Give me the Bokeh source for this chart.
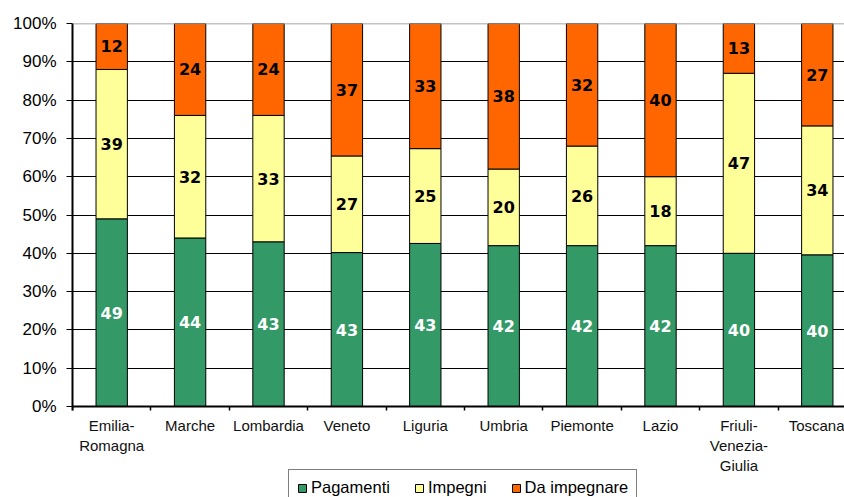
from bokeh.plotting import figure
from bokeh.models import (ColumnDataSource, FixedTicker, NumeralTickFormatter, Span,
                          Legend, LegendItem, Range1d)
from bokeh.core.properties import value
from bokeh.embed import file_html
from bokeh.resources import INLINE

regions = ["Emilia-\nRomagna", "Marche", "Lombardia", "Veneto", "Liguria", "Umbria",
           "Piemonte", "Lazio", "Friuli-\nVenezia-\nGiulia", "Toscana"]
pagamenti = [49, 44, 43, 43, 43, 42, 42, 42, 40, 40]
impegni = [39, 32, 33, 27, 25, 20, 26, 18, 47, 34]
da_impegnare = [12, 24, 24, 37, 33, 38, 32, 40, 13, 27]
series_names = ["Pagamenti", "Impegni", "Da impegnare"]
colors = ["#339966", "#FFFF99", "#FF6600"]
label_colors = ["white", "black", "black"]
y_ticks = [0.0, 0.1, 0.2, 0.3, 0.4, 0.5, 0.6, 0.7, 0.8, 0.9, 1.0]

W, H = 844, 497
left, top = 72, 23
zero_px = 406          # pixel row of the 0% line
px_per_unit = 383.0    # pixels from 0% to 100%
slot = 78.4
frame_w = W - left
x_end = -0.5 + frame_w / slot
y_start = -(H - zero_px) / px_per_unit

p = figure(width=W, height=H, output_backend="svg", toolbar_location=None,
           x_range=Range1d(-0.5, x_end), y_range=Range1d(y_start, 1),
           min_border_left=left, min_border_top=top, min_border_right=0,
           min_border_bottom=0)
p.outline_line_color = None
p.background_fill_color = "white"

n = len(regions)
xs = list(range(n))
totals = [a + b + c for a, b, c in zip(pagamenti, impegni, da_impegnare)]
series = [pagamenti, impegni, da_impegnare]
bottom = [0.0] * n
renderers = []
for vals, col, lc in zip(series, colors, label_colors):
    shares = [v / t for v, t in zip(vals, totals)]
    tops = [b + s for b, s in zip(bottom, shares)]
    mids = [(b + t) / 2 for b, t in zip(bottom, tops)]
    src = ColumnDataSource(dict(x=xs, bottom=bottom, top=tops, mid=mids,
                                lab=[str(v) for v in vals]))
    r = p.vbar(x="x", bottom="bottom", top="top", width=0.4, source=src,
               fill_color=col, line_color="black", line_width=1)
    renderers.append(r)
    p.text(x="x", y="mid", text="lab", source=src, text_align="center",
           text_baseline="middle", text_color=lc, text_font=value("DejaVu Sans"),
           text_font_style="bold", text_font_size="16px")
    bottom = tops

# grid
p.xgrid.visible = False
p.ygrid.ticker = FixedTicker(ticks=y_ticks[1:-1])
p.ygrid.grid_line_color = "black"
p.ygrid.grid_line_width = 1
p.add_layout(Span(location=1.0, dimension="width", line_color="#888888", line_width=1.5))

# y axis
p.yaxis.ticker = FixedTicker(ticks=y_ticks)
p.yaxis.formatter = NumeralTickFormatter(format="0%")
p.yaxis.bounds = (-0.011, 1)
p.yaxis.axis_line_width = 2
p.yaxis.axis_line_color = "black"
p.yaxis.major_tick_out = 6
p.yaxis.major_tick_in = 0
p.yaxis.major_tick_line_color = "black"
p.yaxis.minor_tick_line_color = None
p.yaxis.major_label_text_font = "Liberation Sans"
p.yaxis.major_label_text_font_size = "17px"
p.yaxis.major_label_text_color = "black"
p.yaxis.major_label_standoff = 10

# x axis drawn at the 0% line inside the frame
p.xaxis.fixed_location = 0
p.xaxis.ticker = FixedTicker(ticks=xs, minor_ticks=[i - 0.5 for i in range(n + 1)])
p.xaxis.major_label_overrides = {i: regions[i] for i in xs}
p.xaxis.major_tick_line_color = None
p.xaxis.major_tick_out = 0
p.xaxis.major_tick_in = 0
p.xaxis.minor_tick_out = 4
p.xaxis.minor_tick_in = 0
p.xaxis.minor_tick_line_color = "black"
p.xaxis.minor_tick_line_width = 1.5
p.xaxis.axis_line_width = 2
p.xaxis.axis_line_color = "black"
p.xaxis.major_label_text_font = "Liberation Sans"
p.xaxis.major_label_text_font_size = "15px"
p.xaxis.major_label_text_color = "#111111"
p.xaxis.major_label_standoff = 6

legend = Legend(items=[LegendItem(label=nm, renderers=[r]) for nm, r in zip(series_names, renderers)],
                orientation="horizontal", location=(216, -9),
                glyph_width=10, glyph_height=10, label_standoff=4, spacing=24,
                padding=8, margin=0, border_line_color="black", border_line_width=1.5,
                label_text_font="Liberation Sans", label_text_font_size="16.5px",
                label_text_color="black", background_fill_alpha=1)
p.add_layout(legend, "center")

open("out.html", "w").write(file_html(p, INLINE))
